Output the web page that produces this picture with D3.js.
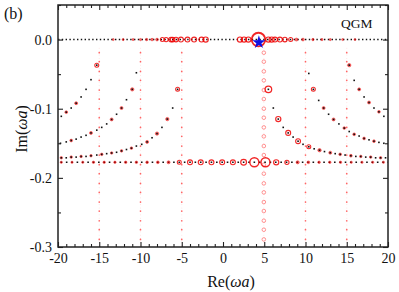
<!DOCTYPE html>
<html>
<head>
<meta charset="utf-8">
<script src="https://cdn.jsdelivr.net/npm/d3@7"></script>
<style>
  body { margin: 0; background: #fff; }
  svg { display: block; font-family: "Liberation Serif", "Times New Roman", serif; }
</style>
</head>
<body>
<svg></svg>
<script>
// ---- data ----
const xTicks = [-20, -15, -10, -5, 0, 5, 10, 15, 20];
const yTicks = [0, -0.1, -0.2, -0.3];

// black dotted rows (start Re, end Re, Im)
const realRow = [[-20, 0], [20, 0]];
const lowRow = [[-20, -0.1775], [20, -0.1775]];

// black branch curves [Re, Im]
const leftA = [[-15.3,-0.037],[-16.0,-0.058],[-16.6,-0.072],[-17.2,-0.083],[-17.8,-0.092],[-18.4,-0.099],[-19.0,-0.105],[-19.6,-0.111]];
const leftB = [[-10.5,-0.048],[-11.0,-0.072],[-11.7,-0.087],[-12.3,-0.099],[-12.9,-0.108],[-13.5,-0.1155],[-14.1,-0.122],[-14.7,-0.127],[-15.3,-0.131],[-16.0,-0.135],[-16.6,-0.1385],[-17.2,-0.141],[-17.8,-0.144],[-18.4,-0.146],[-19.0,-0.148],[-19.7,-0.150]];
const leftC = [[-5.5,-0.072],[-6.1,-0.099],[-6.75,-0.115],[-7.4,-0.127],[-8.0,-0.136],[-8.6,-0.142],[-9.2,-0.148],[-9.85,-0.1515],[-10.5,-0.154],[-11.1,-0.157],[-11.7,-0.159],[-12.3,-0.161],[-12.9,-0.163],[-13.5,-0.164],[-14.1,-0.165],[-14.7,-0.166],[-15.3,-0.167],[-16.0,-0.168],[-16.6,-0.169],[-17.2,-0.169],[-17.8,-0.170],[-18.4,-0.170],[-19.0,-0.171],[-19.6,-0.171]];
const rightA = [[15.3,-0.037],[15.9,-0.059],[16.5,-0.072],[17.1,-0.083],[17.7,-0.091],[18.3,-0.099],[18.9,-0.1045],[19.5,-0.111]];
const rightB = [[10.4,-0.049],[10.95,-0.072],[11.6,-0.088],[12.2,-0.099],[12.8,-0.108],[13.4,-0.1155],[14.05,-0.122],[14.7,-0.128],[15.3,-0.133],[15.9,-0.137],[16.5,-0.1395],[17.1,-0.143],[17.7,-0.145],[18.3,-0.147],[18.9,-0.1487],[19.5,-0.150]];
const rightC = [[5.5,-0.072],[6.1,-0.099],[6.7,-0.115],[7.3,-0.127],[7.9,-0.135],[8.5,-0.141],[9.1,-0.147],[9.7,-0.1515],[10.4,-0.155],[11.05,-0.158],[11.7,-0.160],[12.3,-0.162],[13.0,-0.1636],[13.6,-0.165],[14.2,-0.166],[14.8,-0.167],[15.5,-0.168],[16.1,-0.169],[16.7,-0.169],[17.3,-0.170],[17.9,-0.170],[18.5,-0.171],[19.1,-0.171],[19.7,-0.171]];

// red markers [Re, Im, weight]
const redBranches = [
  [-15.3,-0.037,0.2],[-17.8,-0.092,0.12],[-19.0,-0.105,0.1],
  [-11.0,-0.072,0.15],[-12.3,-0.099,0.12],[-13.5,-0.1155,0.12],[-16.0,-0.135,0.12],[-18.4,-0.146,0.1],
  [-5.5,-0.072,0.2],[-6.75,-0.115,0.15],[-8.0,-0.136,0.15],[-9.2,-0.148,0.12],[-11.1,-0.157,0.08],[-12.3,-0.161,0.08],[-13.5,-0.164,0.08],[-14.7,-0.166,0.08],[-16.0,-0.168,0.08],[-17.2,-0.169,0.08],[-18.4,-0.170,0.08],[-19.6,-0.171,0.08],
  [15.3,-0.037,0.15],[16.5,-0.072,0.12],[17.7,-0.091,0.12],[18.9,-0.1045,0.1],
  [10.95,-0.072,0.2],[12.2,-0.099,0.12],[13.4,-0.1155,0.12],[14.7,-0.128,0.1],[15.9,-0.137,0.1],[17.1,-0.143,0.1],[18.3,-0.147,0.1],
  [5.5,-0.072,0.42],[6.7,-0.115,0.3],[7.9,-0.135,0.28],[9.1,-0.147,0.27],[10.4,-0.155,0.2],[11.7,-0.160,0.15],[13.0,-0.1636,0.12],[14.2,-0.166,0.1],[15.5,-0.168,0.1],[16.7,-0.169,0.08],[17.9,-0.170,0.08],[19.1,-0.171,0.08]
];
const redLowRow = [
  [-19.6,0.06],[-18.3,0.06],[-17.0,0.06],[-15.7,0.07],[-14.4,0.07],[-13.1,0.07],[-11.8,0.08],[-10.5,0.08],[-9.2,0.09],[-7.9,0.1],[-6.6,0.12],[-5.3,0.2],[-4.0,0.28],[-2.7,0.28],[-1.4,0.28],[-0.1,0.28],[1.2,0.28],[2.5,0.35],[3.8,0.62],
  [5.15,0.62],[6.45,0.3],[7.75,0.22],[9.05,0.13],[10.35,0.1],[11.65,0.08],[12.95,0.07],[14.25,0.07],[15.55,0.06],[16.85,0.06],[18.15,0.06],[19.45,0.06]
];
const redRealRow = [
  [-13.3,0.04],[-12.1,0.05],[-10.9,0.05],[-10.0,0.06],[-9.25,0.07],[-8.6,0.08],[-8.0,0.1],
  [-7.35,0.2],[-6.9,0.22],[-6.3,0.25],[-6.1,0.25],[-5.7,0.25],[-5.1,0.27],[-4.3,0.27],[-3.5,0.28],[-2.6,0.28],[-2.1,0.3],
  [2.06,0.3],[2.55,0.3],[3.07,0.3],[4.3,1.0],[5.5,0.3],[5.9,0.3],[6.3,0.28],[6.9,0.27],[7.5,0.25],[8.2,0.2],[8.9,0.12],[9.7,0.1],[10.9,0.07],[12.0,0.06],[13.0,0.05],[14.5,0.04],[16.0,0.04]
];

// red vertical dotted lines
const vertRe = [-15, -10, -5, 10, 15];
const vertCircleRe = [4.95];
const vertIm = [-0.019,-0.032,-0.046,-0.059,-0.073,-0.086,-0.100,-0.113,-0.127,-0.140,-0.154,-0.167,-0.181,-0.194,-0.208,-0.221,-0.235,-0.248,-0.262,-0.275,-0.289];

const star = [4.35, -0.004];

// ---- layout ----
const width = 399;
const height = 292;
const margin = { left: 58, right: 11, top: 5, bottom: 45 };

const svg = d3.select("svg").attr("width", width).attr("height", height);

const xScale = d3.scaleLinear().domain([-20, 20]).range([margin.left, width - margin.right]);
const yScale = d3.scaleLinear().domain([-0.3, 0.05]).range([height - margin.bottom, margin.top]);
const rScale = d3.scaleLinear().domain([0, 1]).range([0.8, 6.8]);

const plot = svg.append("g");
plot.append("clipPath").attr("id", "clip").append("rect")
  .attr("x", margin.left).attr("y", margin.top)
  .attr("width", width - margin.left - margin.right)
  .attr("height", height - margin.top - margin.bottom);
const body = plot.append("g").attr("clip-path", "url(#clip)");

const line = d3.line().x((d) => xScale(d[0])).y((d) => yScale(d[1]));

// vertical red dotted lines
vertRe.concat(vertCircleRe).forEach((re) => {
  body.append("path")
    .attr("d", line([[re, -0.012], [re, -0.3]]))
    .attr("stroke", "#f55")
    .attr("stroke-opacity", 0.22)
    .attr("stroke-width", 0.8)
    .attr("stroke-dasharray", "0.8,2.6")
    .attr("fill", "none");
});
vertRe.forEach((re) => {
  body.selectAll(null).data(vertIm).enter().append("circle")
    .attr("cx", xScale(re))
    .attr("cy", (d) => yScale(d))
    .attr("r", 0.85)
    .attr("fill", "#f33")
    .attr("fill-opacity", 0.75);
});
vertCircleRe.forEach((re) => {
  body.selectAll(null).data(vertIm).enter().append("circle")
    .attr("cx", xScale(re))
    .attr("cy", (d) => yScale(d))
    .attr("r", 1.8)
    .attr("fill", "none")
    .attr("stroke", "#f77")
    .attr("stroke-width", 0.8);
});

// black dotted rows
const rowPeriod = (xScale(1.3) - xScale(0)) / 2;
const rowPhase = (xScale(redLowRow[0][0]) - xScale(-20) - 0.8) % rowPeriod;
body.append("path")
  .attr("d", line(lowRow))
  .attr("stroke", "#111")
  .attr("stroke-width", 1.5)
  .attr("stroke-dasharray", `1.6,${rowPeriod - 1.6}`)
  .attr("stroke-dashoffset", rowPeriod - rowPhase)
  .attr("fill", "none");
body.append("path")
  .attr("d", line(realRow))
  .attr("stroke", "#111")
  .attr("stroke-width", 1.4)
  .attr("stroke-dasharray", "1.4,2.4")
  .attr("fill", "none");

// red markers
const drawRed = (data, getIm, getW) => {
  body.selectAll(null).data(data).enter().append("circle")
    .attr("cx", (d) => xScale(d[0]))
    .attr("cy", (d) => yScale(getIm(d)))
    .attr("r", (d) => rScale(getW(d)))
    .attr("fill", (d) => (rScale(getW(d)) < 1.8 ? "rgba(230,0,0,0.55)" : "none"))
    .attr("stroke", "#e00")
    .attr("stroke-opacity", (d) => (rScale(getW(d)) < 1.8 ? 0.45 : 0.85))
    .attr("stroke-width", (d) => 0.7 + rScale(getW(d)) * 0.17);
};
drawRed(redBranches, (d) => d[1], (d) => d[2]);
drawRed(redLowRow, () => -0.1775, (d) => d[1]);
drawRed(redRealRow, () => 0, (d) => d[1]);

// black branch dots on top of the red markers
[leftA, leftB, leftC, rightA, rightB, rightC].forEach((curve) => {
  body.selectAll(null).data(curve).enter().append("rect")
    .attr("x", (d) => xScale(d[0]) - 0.8)
    .attr("y", (d) => yScale(d[1]) - 0.8)
    .attr("width", 1.6)
    .attr("height", 1.6)
    .attr("fill", "#111");
});

// star
body.append("path")
  .attr("d", d3.symbol().type(d3.symbolStar).size(55)())
  .attr("transform", `translate(${xScale(star[0])},${yScale(star[1])})`)
  .attr("fill", "#1010e0");

// ---- axes ----
const minorX = d3.range(-20, 21, 1).filter((v) => v % 5 !== 0);
const minorY = [0.05, -0.05, -0.15, -0.25];

const styleAxis = (g) => {
  g.select(".domain").remove();
  g.selectAll(".tick line").attr("stroke", "#222").attr("stroke-width", 1.1);
  g.selectAll(".tick text").attr("fill", "#111").attr("font-size", 14).attr("font-family", "Liberation Serif, serif");
};

const bottomY = height - margin.bottom;
const rightX = width - margin.right;

svg.append("g").attr("transform", `translate(0,${bottomY})`)
  .call(d3.axisBottom(xScale).tickValues(xTicks).tickSizeInner(-5).tickSizeOuter(0).tickPadding(6).tickFormat((d) => String(d)))
  .call(styleAxis);
svg.append("g").attr("transform", `translate(0,${bottomY})`)
  .call(d3.axisBottom(xScale).tickValues(minorX).tickSizeInner(-3).tickSizeOuter(0).tickFormat(""))
  .call(styleAxis);
svg.append("g").attr("transform", `translate(0,${margin.top})`)
  .call(d3.axisTop(xScale).tickValues(xTicks).tickSizeInner(-5).tickSizeOuter(0).tickFormat(""))
  .call(styleAxis);
svg.append("g").attr("transform", `translate(0,${margin.top})`)
  .call(d3.axisTop(xScale).tickValues(minorX).tickSizeInner(-3).tickSizeOuter(0).tickFormat(""))
  .call(styleAxis);

svg.append("g").attr("transform", `translate(${margin.left},0)`)
  .call(d3.axisLeft(yScale).tickValues(yTicks).tickSizeInner(-5).tickSizeOuter(0).tickPadding(6).tickFormat((d) => d.toFixed(1)))
  .call(styleAxis);
svg.append("g").attr("transform", `translate(${margin.left},0)`)
  .call(d3.axisLeft(yScale).tickValues(minorY).tickSizeInner(-3).tickSizeOuter(0).tickFormat(""))
  .call(styleAxis);
svg.append("g").attr("transform", `translate(${rightX},0)`)
  .call(d3.axisRight(yScale).tickValues(yTicks).tickSizeInner(-5).tickSizeOuter(0).tickFormat(""))
  .call(styleAxis);
svg.append("g").attr("transform", `translate(${rightX},0)`)
  .call(d3.axisRight(yScale).tickValues(minorY).tickSizeInner(-3).tickSizeOuter(0).tickFormat(""))
  .call(styleAxis);

// frame
svg.append("rect")
  .attr("x", margin.left).attr("y", margin.top)
  .attr("width", rightX - margin.left)
  .attr("height", bottomY - margin.top)
  .attr("fill", "none")
  .attr("stroke", "#222")
  .attr("stroke-width", 1.5);

// labels
const xl = svg.append("text")
  .attr("x", 231).attr("y", 287)
  .attr("text-anchor", "middle")
  .attr("font-size", 16)
  .attr("fill", "#111");
xl.append("tspan").text("Re(");
xl.append("tspan").attr("font-style", "italic").text("ωa");
xl.append("tspan").text(")");

const yl = svg.append("text")
  .attr("transform", `translate(27,${(margin.top + bottomY) / 2 + 3}) rotate(-90)`)
  .attr("text-anchor", "middle")
  .attr("font-size", 16)
  .attr("fill", "#111");
yl.append("tspan").text("Im(");
yl.append("tspan").attr("font-style", "italic").text("ωa");
yl.append("tspan").text(")");

svg.append("text").attr("x", 4).attr("y", 19).attr("font-size", 16).attr("fill", "#111").text("(b)");
svg.append("text").attr("x", 341).attr("y", 28).attr("font-size", 13.5).attr("fill", "#111").text("QGM");
</script>
</body>
</html>
